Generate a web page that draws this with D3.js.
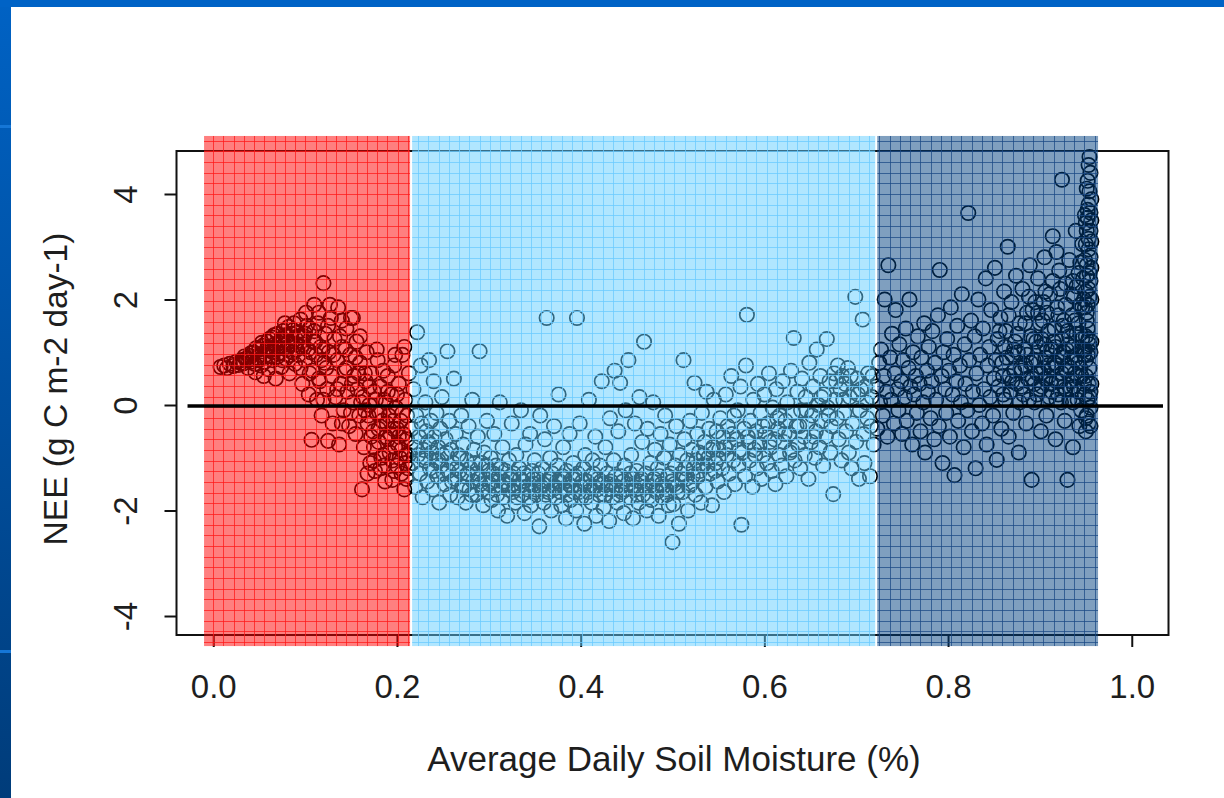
<!DOCTYPE html>
<html>
<head>
<meta charset="utf-8">
<script src="https://cdn.jsdelivr.net/npm/d3@7"></script>
<style>
html,body{margin:0;padding:0;background:#fff;}
svg{display:block;}
text{font-family:"Liberation Sans",Arial,Helvetica,sans-serif;fill:#1e1e1e;}
</style>
</head>
<body>
<svg id="chart" width="1224" height="798"></svg>
<script>
// ---------------- data ----------------
const xTicks = [0.0, 0.2, 0.4, 0.6, 0.8, 1.0];
const xTickLabels = ["0.0", "0.2", "0.4", "0.6", "0.8", "1.0"];
const yTicks = [4, 2, 0, -2, -4];
const yTickLabels = ["4", "2", "0", "-2", "-4"];
const xLabel = "Average Daily Soil Moisture (%)";
const yLabel = "NEE (g C m-2 day-1)";

// moisture zones (dry / intermediate / wet)
const zoneStart = [-0.010, 0.2165, 0.7229];
const zoneEnd   = [0.2143, 0.7207, 0.9633];

// [soil moisture, NEE]
const dryPoints = [
[0.008,0.72],[0.012,0.75],[0.015,0.70],[0.018,0.78],[0.022,0.74],[0.025,0.82],[0.028,0.76],[0.031,0.85],[0.033,0.79],[0.036,0.88],
[0.038,0.70],[0.040,0.93],[0.042,0.82],[0.044,1.00],[0.046,0.62],[0.048,0.90],[0.050,1.05],[0.052,0.75],[0.054,1.12],[0.055,0.55],
[0.057,0.95],[0.059,1.20],[0.060,0.68],[0.062,1.05],[0.064,1.28],[0.065,0.85],[0.067,1.15],[0.068,0.50],[0.070,1.35],[0.071,0.98],
[0.073,1.22],[0.074,0.72],[0.076,1.40],[0.077,1.08],[0.079,0.88],[0.080,1.30],[0.082,1.48],[0.083,0.60],[0.085,1.15],[0.086,1.00],
[0.088,1.55],[0.089,0.78],[0.090,1.25],[0.092,1.38],[0.093,0.95],[0.095,1.62],[0.096,1.10],[0.097,0.40],[0.099,1.30],[0.100,0.85],
[0.101,1.75],[0.103,1.05],[0.104,0.20],[0.105,1.45],[0.107,-0.66],[0.108,0.65],[0.109,1.20],[0.110,1.90],[0.112,0.95],[0.113,0.10],
[0.114,1.55],[0.116,0.45],[0.117,1.10],[0.118,-0.20],[0.120,2.31],[0.121,0.80],[0.122,1.35],[0.124,0.30],[0.125,-0.68],[0.126,1.00],
[0.128,1.65],[0.129,0.55],[0.130,-0.35],[0.132,1.25],[0.133,0.15],[0.135,0.85],[0.136,1.85],[0.137,-0.75],[0.139,0.40],[0.140,1.10],
[0.142,-0.10],[0.143,0.65],[0.145,1.45],[0.146,0.25],[0.148,-0.40],[0.149,0.95],[0.150,1.65],[0.152,0.05],[0.153,0.55],[0.155,-0.55],
[0.156,1.20],[0.157,0.30],[0.159,-0.20],[0.160,0.80],[0.162,-1.60],[0.163,0.15],[0.164,-0.80],[0.166,0.45],[0.167,1.00],[0.168,-0.35],
[0.170,0.00],[0.171,-1.10],[0.172,0.60],[0.174,-0.50],[0.175,0.25],[0.176,-1.25],[0.178,-0.15],[0.179,0.85],[0.180,-0.70],[0.182,0.35],
[0.183,-1.00],[0.184,-0.30],[0.186,0.10],[0.187,-1.45],[0.188,-0.60],[0.190,0.55],[0.191,-0.20],[0.192,-0.90],[0.194,0.20],[0.195,-1.42],
[0.196,-0.45],[0.197,0.75],[0.199,-0.05],[0.200,-1.15],[0.201,-0.75],[0.202,0.40],[0.204,-0.30],[0.205,-1.30],[0.206,0.95],[0.207,-0.55],
[0.208,-1.60],[0.209,0.10],[0.210,-0.95],[0.211,-0.20],[0.212,-1.20],[0.213,0.60],
[0.060,1.10],[0.070,0.92],[0.075,1.25],[0.080,1.05],[0.090,1.15],[0.100,1.35],[0.110,1.40],[0.115,1.75],[0.125,1.50],[0.127,1.90],
[0.140,1.60],[0.105,0.60],[0.120,0.10],[0.145,0.70],[0.155,0.90],[0.165,0.60],[0.152,1.65],[0.160,1.30],[0.170,0.35],[0.185,0.65],
[0.190,0.25],[0.200,0.20],[0.140,-0.35],[0.150,-0.15],[0.165,-0.10],[0.175,-0.80],[0.180,-0.45],[0.190,-0.65],[0.200,-0.45],[0.205,-0.85],
[0.195,-1.05],[0.185,-0.95],[0.210,-1.40],[0.115,0.50],[0.095,0.70],[0.085,1.35],[0.078,1.55],[0.065,1.00],[0.050,0.85],[0.208,1.10],
[0.198,0.95],[0.178,1.05],[0.172,-0.60],[0.182,-1.20],[0.196,-0.30],[0.203,-1.00],[0.188,0.05],[0.158,0.60],[0.135,0.30],[0.118,0.85],
[0.030,0.80],[0.034,0.92],[0.038,0.85],[0.041,0.98],[0.045,0.78],[0.047,1.08],[0.051,0.95],[0.053,1.18],[0.056,0.82],[0.058,1.05],
[0.061,1.25],[0.063,0.92],[0.066,1.32],[0.069,1.05],[0.072,1.18],[0.075,0.85],[0.078,1.32],[0.081,1.18],[0.084,0.95],[0.087,1.42],
[0.091,1.05],[0.094,1.30],[0.098,1.15],[0.102,1.50],[0.106,1.00],[0.111,1.20],[0.119,1.05],[0.123,0.70],[0.131,0.95],[0.138,1.30],
[0.144,1.05],[0.151,0.40],[0.161,0.05],[0.169,-0.20],[0.177,0.10],[0.181,-0.15],[0.189,-0.35],[0.193,-0.55],[0.198,-0.80],[0.202,-0.60],
[0.206,-0.15],[0.211,-0.65],[0.213,-0.95],[0.209,-1.10],[0.197,-1.25],[0.186,-1.15],[0.175,-1.05],[0.168,-1.30]
];

const midPoints = [
[0.216,-0.45],[0.217,-1.10],[0.218,0.30],[0.219,-0.80],[0.220,-1.55],[0.221,-0.20],[0.222,1.38],[0.223,-0.95],[0.224,-0.60],[0.225,-1.30],
[0.226,0.75],[0.227,-0.35],[0.228,-1.75],[0.229,-0.85],[0.230,-1.05],[0.231,0.05],[0.232,-0.50],[0.233,-1.45],[0.234,-0.70],[0.235,0.85],
[0.236,-1.20],[0.237,-0.30],[0.238,-0.90],[0.239,-1.60],[0.240,0.45],[0.241,-0.60],[0.242,-1.05],[0.243,-0.15],[0.244,-1.35],[0.245,-0.80],
[0.246,-1.85],[0.247,-0.45],[0.248,-1.15],[0.249,0.15],[0.250,-0.95],[0.252,-1.50],[0.253,-0.65],[0.255,1.02],[0.256,-1.25],[0.257,-0.30],
[0.258,-1.70],[0.259,-0.85],
[0.261,-1.10],[0.262,0.50],[0.263,-1.40],[0.264,-0.55],[0.266,-1.75],[0.267,-0.95],[0.268,-1.25],[0.270,-0.20],[0.271,-1.55],[0.272,-0.75],
[0.274,-1.35],[0.275,-1.85],[0.276,-1.05],[0.278,-0.40],[0.279,-1.60],[0.280,-1.20],[0.282,0.10],[0.283,-1.45],[0.284,-0.85],[0.286,-1.70],
[0.287,-1.30],[0.288,-0.60],[0.290,1.02],[0.291,-1.50],[0.292,-1.10],[0.294,-1.90],[0.295,-0.90],[0.296,-1.40],[0.298,-0.30],[0.299,-1.65],
[0.300,-1.25],[0.302,-1.00],[0.303,-1.80],[0.304,-1.45],[0.306,-0.55],[0.307,-1.60],[0.308,-1.15],[0.310,-2.00],[0.311,-1.35],[0.312,0.05],
[0.314,-1.55],[0.315,-0.80],[0.316,-1.75],[0.318,-1.25],[0.319,-1.50],[0.320,-2.10],[0.322,-1.05],[0.323,-1.40],[0.325,-0.35],[0.326,-1.65],
[0.327,-1.30],[0.329,-1.85],[0.330,-0.95],[0.332,-1.55],[0.333,-1.20],[0.335,-0.10],[0.336,-1.70],[0.337,-1.45],[0.339,-2.05],[0.340,-0.75],
[0.342,-1.35],[0.343,-1.60],[0.345,-0.55],[0.346,-1.90],[0.347,-1.25],[0.349,-1.50],
[0.350,-1.05],[0.352,-1.70],[0.353,-1.40],[0.355,-2.30],[0.356,-0.20],[0.357,-1.55],[0.358,-1.20],[0.360,-1.85],[0.361,-0.65],[0.363,1.65],
[0.364,-1.45],[0.365,-1.65],[0.367,-1.00],[0.368,-2.00],[0.369,-1.30],[0.371,-0.40],[0.372,-1.55],[0.373,-1.75],[0.375,-1.15],[0.376,0.20],
[0.377,-1.45],[0.379,-1.90],[0.380,-1.35],[0.381,-0.80],[0.383,-1.60],[0.384,-2.15],[0.385,-1.25],[0.387,-1.50],[0.388,-0.55],[0.389,-1.80],
[0.391,-1.40],[0.392,-1.10],[0.393,-1.65],[0.395,-2.00],[0.396,1.65],[0.397,-1.30],[0.399,-0.35],[0.400,-1.55],[0.401,-1.75],[0.403,-1.20],
[0.404,-2.25],[0.405,-0.95],[0.407,-1.45],[0.408,-1.65],[0.409,0.10],[0.411,-1.35],[0.412,-1.85],[0.413,-1.05],[0.415,-1.55],[0.416,-0.60],
[0.417,-2.10],[0.419,-1.40],[0.420,-1.70],[0.421,-1.15],[0.423,0.45],[0.424,-1.50],[0.425,-1.95],[0.427,-0.80],[0.428,-1.60],[0.429,-1.30],
[0.431,-2.20],[0.432,-0.25],[0.433,-1.45],[0.435,-1.75],[0.436,-1.05],[0.437,0.65],[0.439,-1.55],[0.440,-1.85],[0.441,-0.50],[0.443,0.42],
[0.444,-1.35],[0.445,-1.65],[0.447,-2.05],[0.448,-1.15],[0.449,-0.10],
[0.451,-1.50],[0.452,0.85],[0.453,-1.75],[0.455,-0.95],[0.456,-1.40],[0.457,-2.15],[0.459,-0.35],[0.460,-1.60],[0.461,-1.25],[0.463,-1.85],
[0.464,0.15],[0.465,-1.45],[0.467,-0.70],[0.468,-1.70],[0.469,1.20],[0.471,-1.30],[0.472,-2.00],[0.473,-0.45],[0.475,-1.55],[0.476,-1.10],
[0.477,-1.80],[0.479,0.05],[0.480,-1.40],[0.481,-0.85],[0.483,-1.65],[0.484,-1.20],[0.485,-2.10],[0.487,-0.55],[0.488,-1.50],[0.489,-1.75],
[0.491,-1.00],[0.492,-0.20],[0.493,-1.60],[0.495,-1.35],[0.496,-1.90],[0.497,-0.75],[0.499,-1.45],[0.500,-2.60],[0.501,-1.88],[0.503,-1.15],
[0.504,-0.40],[0.505,-1.55],[0.507,-2.25],[0.508,-0.95],[0.509,-1.30],[0.511,-1.65],[0.512,0.85],[0.513,-0.65],[0.515,-1.40],[0.516,-1.05],
[0.517,-2.00],[0.519,-0.30],[0.520,-1.50],[0.521,-0.85],[0.523,-1.20],[0.524,0.42],[0.525,-1.70],[0.527,-0.55],[0.528,-1.35],[0.529,-0.90],
[0.531,-1.85],[0.532,-0.15],[0.533,-1.15],[0.535,-0.70],[0.536,-1.55],[0.537,0.25],[0.539,-1.00],[0.540,-0.45],[0.541,-1.30],[0.543,-1.90],
[0.544,-0.80],[0.545,0.10],[0.547,-1.10],[0.548,-0.50],[0.549,-1.45],
[0.551,-0.85],[0.552,-0.25],[0.554,-1.20],[0.555,-0.60],[0.556,-1.65],[0.558,0.20],[0.559,-0.95],[0.560,-0.40],[0.562,-1.30],[0.563,-0.75],
[0.564,0.55],[0.566,-1.05],[0.567,-0.20],[0.568,-1.50],[0.570,-0.65],[0.571,-0.10],[0.572,-1.15],[0.574,0.35],[0.575,-2.27],[0.576,-0.90],
[0.578,-0.45],[0.579,-1.35],[0.580,0.75],[0.581,1.71],[0.583,-0.70],[0.584,-1.05],[0.585,-0.30],[0.587,-1.55],[0.588,0.10],[0.589,-0.85],
[0.591,-0.50],[0.592,-1.20],[0.593,0.40],[0.595,-0.75],[0.596,-0.15],[0.597,-1.40],[0.599,-0.95],[0.600,0.20],[0.601,-0.55],[0.603,-1.10],
[0.604,-0.35],[0.605,0.60],[0.607,-0.80],[0.608,-1.25],[0.609,-0.05],[0.611,-0.65],[0.612,-1.50],[0.613,0.30],[0.615,-0.45],[0.616,-0.95],
[0.617,-0.20],[0.619,-1.15],[0.620,0.45],[0.621,-0.70],[0.623,-0.30],[0.624,-1.35],[0.625,0.05],[0.627,-0.55],[0.628,-0.90],[0.629,0.65],
[0.631,-0.15],[0.632,1.27],[0.633,-1.05],[0.635,-0.40],[0.636,0.25],[0.637,-0.75],[0.639,-1.20],[0.640,-0.10],[0.641,0.50],[0.643,-0.60],
[0.644,-0.95],[0.645,0.15],[0.647,-0.35],[0.648,-1.40],[0.649,0.80],[0.651,-0.70],[0.652,-0.20],[0.653,0.35],[0.655,-1.00],[0.656,-0.50],
[0.657,1.05],[0.659,0.00],[0.660,-0.80],[0.661,0.55],[0.663,-0.30],[0.664,-1.15],[0.665,0.20],[0.667,-0.60],[0.668,1.25],[0.669,-0.05],
[0.671,0.45],[0.672,-0.90],[0.673,-0.40],[0.675,-1.69],[0.676,0.60],[0.677,0.10],[0.679,-0.25],[0.680,0.75],[0.681,-0.65],[0.683,0.30],
[0.684,-1.05],[0.685,0.55],[0.687,-0.15],[0.688,0.40],[0.689,-0.50],[0.691,0.70],[0.692,-0.90],[0.693,0.15],[0.695,-1.20],[0.696,-0.35],
[0.697,0.25],[0.699,2.05],[0.700,-0.70],[0.701,0.50],[0.703,-1.40],[0.704,-0.10],[0.705,0.30],[0.707,1.62],[0.708,-0.55],[0.709,-1.10],
[0.711,0.05],[0.712,-0.25],[0.713,0.60],[0.715,-1.35],[0.716,-0.40],[0.717,0.15],[0.719,-0.75],
[0.231,-1.00],[0.236,-0.75],[0.240,-1.25],[0.245,-1.05],[0.251,-1.30],[0.254,-0.90],[0.260,-1.45],[0.265,-1.20],[0.269,-1.00],[0.273,-1.55],
[0.277,-1.30],[0.281,-1.70],[0.285,-1.10],[0.289,-1.40],[0.293,-1.60],[0.297,-1.15],[0.301,-1.50],[0.305,-1.30],[0.309,-1.70],[0.313,-1.20],
[0.317,-1.45],[0.321,-1.60],[0.324,-1.35],[0.328,-1.55],[0.331,-1.75],[0.334,-1.40],[0.338,-1.30],[0.341,-1.55],[0.344,-1.75],[0.348,-1.40],
[0.351,-1.60],[0.354,-1.30],[0.359,-1.50],[0.362,-1.70],[0.366,-1.40],[0.370,-1.60],[0.374,-1.45],[0.378,-1.65],[0.382,-1.40],[0.386,-1.70],
[0.390,-1.55],[0.394,-1.35],[0.398,-1.65],[0.402,-1.45],[0.406,-1.75],[0.410,-1.55],[0.414,-1.30],[0.418,-1.60],[0.422,-1.45],[0.426,-1.70],
[0.430,-1.50],[0.434,-1.60],[0.438,-1.35],[0.442,-1.70],[0.446,-1.45],[0.450,-1.60],[0.454,-1.30],[0.458,-1.55],[0.462,-1.70],[0.466,-1.40],
[0.470,-1.55],[0.474,-1.75],[0.478,-1.45],[0.482,-1.60],[0.486,-1.35],[0.490,-1.55],[0.494,-1.70],[0.498,-1.30],[0.502,-1.50],[0.506,-1.65],
[0.510,-1.40],[0.514,-1.20],[0.518,-1.55],[0.522,-1.35],[0.526,-1.05],[0.530,-1.25],[0.534,-0.95],[0.538,-1.15],[0.542,-0.85],[0.546,-1.25],
[0.550,-1.00],[0.557,-0.80],[0.565,-0.55],[0.573,-0.85],[0.582,-0.60],[0.590,-0.95],[0.598,-0.40],[0.606,-0.70],[0.614,-0.25],[0.622,-0.55],
[0.630,-0.85],[0.638,-0.40],[0.646,-0.10],[0.654,-0.60],[0.662,0.15],[0.670,-0.20],[0.678,0.45],[0.686,0.10],[0.694,0.55],[0.702,0.20],
[0.710,0.35],[0.718,0.55]
];

const wetPoints = [
[0.722,0.35],[0.723,-0.45],[0.725,0.80],[0.726,0.05],[0.727,1.05],[0.729,-0.20],[0.730,0.55],[0.731,2.00],[0.733,0.25],[0.734,-0.60],
[0.735,2.65],[0.737,0.90],[0.738,0.10],[0.739,1.35],[0.741,-0.35],[0.742,0.60],[0.743,1.80],[0.745,0.30],[0.746,-0.10],[0.747,1.15],
[0.749,0.45],[0.750,-0.55],[0.751,0.85],[0.753,0.15],[0.754,1.45],[0.755,-0.30],[0.757,0.70],[0.758,2.00],[0.759,0.35],[0.761,-0.75],
[0.762,1.00],[0.763,0.20],[0.765,0.55],[0.766,-0.15],[0.767,1.30],[0.769,0.40],[0.770,-0.50],[0.771,0.90],[0.773,0.05],[0.774,1.55],
[0.775,-0.90],[0.777,0.65],[0.778,0.25],[0.779,1.10],[0.781,-0.25],[0.782,0.45],[0.783,1.40],[0.785,-0.65],[0.786,0.80],[0.787,0.10],
[0.789,1.70],[0.790,-0.40],[0.791,2.56],[0.793,0.55],[0.794,-1.10],[0.795,1.00],[0.797,0.30],[0.798,-0.15],[0.799,1.25],[0.801,0.65],
[0.802,-0.60],[0.803,1.85],[0.805,0.20],[0.806,0.95],[0.807,-1.33],[0.809,0.45],[0.810,1.50],[0.811,-0.30],[0.813,0.75],[0.814,0.05],
[0.815,2.10],[0.817,-0.80],[0.818,1.15],[0.819,0.40],[0.821,-0.10],[0.822,3.64],[0.823,0.85],[0.825,1.60],[0.826,-0.50],[0.827,0.25],
[0.829,1.30],[0.830,-1.20],[0.831,0.60],[0.833,2.00],[0.834,0.00],[0.835,0.95],[0.837,-0.35],[0.838,1.45],[0.839,0.30],[0.841,2.40],
[0.842,-0.75],[0.843,0.75],[0.845,1.10],[0.846,0.15],[0.847,1.80],[0.849,-0.20],[0.850,0.50],[0.851,2.60],[0.853,-1.04],[0.854,1.25],
[0.855,0.35],[0.857,1.65],[0.858,-0.45],[0.859,0.80],[0.861,2.15],[0.862,0.10],[0.863,1.40],[0.865,3.00],[0.866,-0.60],[0.867,0.55],
[0.869,1.95],[0.870,0.95],[0.871,-0.15],[0.873,1.20],[0.874,2.45],[0.875,0.40],[0.877,-0.90],[0.878,1.55],[0.879,0.70],[0.881,2.20],
[0.882,0.20],[0.883,1.05],[0.885,-0.35],[0.886,1.75],[0.887,0.50],[0.889,2.65],[0.890,1.30],[0.891,-1.42],[0.893,0.85],[0.894,0.05],
[0.895,1.95],[0.897,0.60],[0.898,2.40],[0.899,1.10],[0.901,-0.50],[0.902,0.35],[0.903,1.60],[0.905,2.80],[0.906,0.90],[0.907,-0.20],
[0.909,1.40],[0.910,0.15],[0.911,2.10],[0.913,0.70],[0.914,3.20],[0.915,1.20],[0.917,-0.65],[0.918,0.45],[0.919,1.85],[0.921,2.55],
[0.922,0.95],[0.923,0.05],[0.924,4.27],[0.925,1.50],[0.927,-0.30],[0.928,2.30],[0.929,0.65],[0.930,-1.42],[0.931,1.15],[0.932,2.75],
[0.933,0.30],[0.935,1.70],[0.936,-0.80],[0.937,2.05],[0.938,0.85],[0.939,3.30],[0.940,1.35],[0.941,0.10],[0.942,2.50],[0.943,-0.40],
[0.944,1.90],[0.945,0.55],[0.946,3.05],[0.947,1.05],
[0.860,0.55],[0.864,0.90],[0.868,0.25],[0.872,0.65],[0.876,1.00],[0.880,0.35],[0.884,0.75],[0.888,0.10],[0.892,0.50],[0.896,1.20],
[0.900,0.30],[0.904,0.70],[0.908,1.05],[0.912,0.40],[0.916,0.80],[0.920,0.20],[0.924,0.60],[0.926,1.00],[0.928,0.30],[0.930,0.75],
[0.932,1.30],[0.934,0.45],[0.936,0.05],[0.938,0.60],[0.940,0.95],[0.942,0.25],[0.944,0.70],[0.946,1.25],[0.948,0.40],[0.862,1.10],
[0.870,0.45],[0.878,0.05],[0.886,0.95],[0.894,0.40],[0.902,1.25],[0.910,0.55],[0.918,0.10],[0.926,1.60],[0.934,0.90],[0.942,1.55],
[0.948,2.00],[0.944,2.70],[0.936,2.35],[0.918,2.90],[0.906,2.15],[0.898,1.75],
[0.852,0.85],[0.856,1.40],[0.860,0.20],[0.866,1.70],[0.872,1.05],[0.876,1.35],[0.880,0.65],[0.884,1.55],[0.888,2.05],[0.890,0.80],
[0.892,1.80],[0.896,0.85],[0.900,1.55],[0.904,1.95],[0.906,0.50],[0.908,1.75],[0.912,1.05],[0.914,2.35],[0.916,1.45],[0.918,0.75],
[0.920,1.70],[0.922,2.20],[0.924,1.25],[0.926,0.35],[0.928,1.90],[0.930,1.40],[0.932,0.10],[0.934,2.10],[0.936,1.10],[0.938,1.60],
[0.940,2.25],[0.942,0.80],[0.944,1.35],[0.946,1.85],[0.948,0.95],[0.947,2.40],[0.945,-0.10],[0.941,0.55],[0.937,0.35],[0.933,0.70],
[0.929,1.05],[0.925,0.90],[0.921,0.45],[0.917,1.10],[0.913,0.25],[0.909,0.75],[0.905,1.15],[0.901,0.60],[0.897,0.20],[0.893,1.25],
[0.950,-0.50],[0.951,-0.20],[0.952,0.10],[0.953,0.40],[0.954,0.70],[0.955,1.00],[0.950,1.30],[0.951,1.60],[0.952,1.90],[0.953,2.20],
[0.954,2.50],[0.955,2.80],[0.950,3.05],[0.951,3.30],[0.952,3.55],[0.953,3.80],[0.954,4.05],[0.955,4.40],[0.954,4.70],[0.953,-0.35],
[0.955,0.25],[0.950,0.85],[0.952,1.45],[0.954,2.05],[0.951,2.65],[0.953,3.15],[0.955,3.65],[0.952,4.25],[0.950,0.55],[0.954,1.15],
[0.951,1.75],[0.955,2.35],[0.953,2.95],[0.950,3.45],[0.955,-0.05],[0.952,3.70],[0.951,2.45],[0.953,1.25],[0.954,0.15],[0.950,2.15],
[0.955,3.30],[0.952,0.95],
[0.956,0.40],[0.956,1.20],[0.956,2.00],[0.956,2.60],[0.956,3.10],[0.956,3.50],[0.956,3.90],[0.949,0.20],[0.949,1.05],[0.949,1.85],
[0.949,2.75],[0.949,3.60],[0.951,4.10],[0.953,4.55],[0.955,-0.40],[0.950,-0.25]
];

// zero reference line extent (x in soil moisture units)
const zeroLineX = [-0.028, 1.034];

// ---------------- drawing ----------------
const svg = d3.select("#chart");

// slide border
const defs = svg.append("defs");
const lg = defs.append("linearGradient").attr("id","sideGrad").attr("x1",0).attr("y1",0).attr("x2",0).attr("y2",1);
lg.append("stop").attr("offset","0%").attr("stop-color","#0062C4");
lg.append("stop").attr("offset","100%").attr("stop-color","#003C7A");
svg.append("rect").attr("x",0).attr("y",0).attr("width",11).attr("height",798).attr("fill","url(#sideGrad)");
svg.append("rect").attr("x",0).attr("y",0).attr("width",1224).attr("height",7).attr("fill","#0063C6");
svg.append("rect").attr("x",0).attr("y",125).attr("width",11).attr("height",3).attr("fill","#1576D6");
svg.append("rect").attr("x",0).attr("y",650).attr("width",11).attr("height",3).attr("fill","#1576D6");

const x = d3.scaleLinear().domain([-0.04, 1.04]).range([176.5, 1168.5]);
const y = d3.scaleLinear().domain([-4.36, 4.815]).range([635, 151]);

// frame
svg.append("rect")
  .attr("x", x.range()[0]).attr("y", y.range()[1])
  .attr("width", x.range()[1]-x.range()[0]).attr("height", y.range()[0]-y.range()[1])
  .attr("fill","none").attr("stroke","#111").attr("stroke-width",2);

// axes
const xAxis = d3.axisBottom(x).tickValues(xTicks).tickSize(12).tickFormat((d,i)=>xTickLabels[i]);
const gx = svg.append("g").attr("transform","translate(0,635)").call(xAxis);
gx.select(".domain").remove();
gx.selectAll(".tick line").attr("stroke","#111").attr("stroke-width",2);
gx.selectAll(".tick text").attr("font-size",33).attr("y",30).attr("dy","1.0em").attr("fill","#1e1e1e")
  .style("font-family","'Liberation Sans',Arial,sans-serif");

const yAxis = d3.axisLeft(y).tickValues(yTicks).tickSize(12).tickFormat((d,i)=>yTickLabels[i]);
const gy = svg.append("g").attr("transform","translate(176.5,0)").call(yAxis);
gy.select(".domain").remove();
gy.selectAll(".tick line").attr("stroke","#111").attr("stroke-width",2);
gy.selectAll(".tick text")
  .attr("x",null).attr("dy",null)
  .attr("text-anchor","middle")
  .attr("transform","translate(-40,0) rotate(-90)")
  .attr("font-size",33).attr("fill","#1e1e1e")
  .style("font-family","'Liberation Sans',Arial,sans-serif");

// axis titles
svg.append("text").attr("x", 674).attr("y", 771)
  .attr("text-anchor","middle").attr("font-size",35).text(xLabel);
svg.append("text").attr("transform","translate(67,389) rotate(-90)")
  .attr("text-anchor","middle").attr("font-size",33.5).text(yLabel);

// points
const allPoints = dryPoints.concat(midPoints, wetPoints);
svg.append("g").selectAll("circle").data(allPoints).join("circle")
  .attr("cx", d=>x(d[0])).attr("cy", d=>y(d[1])).attr("r", 7.2)
  .attr("fill","none").attr("stroke","#000").attr("stroke-width",1.7);

// zone overlays with grid
const zoneColors = ["#FF0000", "#62CEFF", "#003F80"];
const zoneGrid   = ["#FF1A1A", "#6ACAFF", "#1B4A86"];
const gridDX = 10.25, gridDY = 10.67;
const yTop = 5.10, yBot = -4.57;
const gz = svg.append("g");
zoneStart.forEach((s,i)=>{
  const x0 = x(s), x1 = x(zoneEnd[i]);
  const yt = y(yTop), yb = y(yBot);
  gz.append("rect").attr("x",x0).attr("y",yt).attr("width",x1-x0).attr("height",yb-yt)
    .attr("fill",zoneColors[i]).attr("fill-opacity",0.5);
  const clip = defs.append("clipPath").attr("id","zc"+i);
  clip.append("rect").attr("x",x0).attr("y",yt).attr("width",x1-x0).attr("height",yb-yt);
  const gl = gz.append("g").attr("clip-path","url(#zc"+i+")")
    .attr("stroke",zoneGrid[i]).attr("stroke-width",1).attr("stroke-opacity",0.75);
  const vx = d3.range(Math.ceil((x0 - x(0))/gridDX), Math.floor((x1 - x(0))/gridDX)+1).map(k=>x(0)+k*gridDX);
  gl.selectAll("line.v").data(vx).join("line").attr("class","v")
    .attr("x1",d=>Math.round(d)+0.5).attr("x2",d=>Math.round(d)+0.5).attr("y1",yt).attr("y2",yb);
  const hy = d3.range(Math.ceil((yt - 162)/gridDY), Math.floor((yb - 162)/gridDY)+1).map(k=>162+k*gridDY);
  gl.selectAll("line.h").data(hy).join("line").attr("class","h")
    .attr("y1",d=>Math.round(d)+0.5).attr("y2",d=>Math.round(d)+0.5).attr("x1",x0).attr("x2",x1);
});

// zero line
svg.append("line").attr("x1",x(zeroLineX[0])).attr("x2",x(zeroLineX[1]))
  .attr("y1",y(0)+1).attr("y2",y(0)+1).attr("stroke","#000").attr("stroke-width",3.5);
</script>
</body>
</html>
